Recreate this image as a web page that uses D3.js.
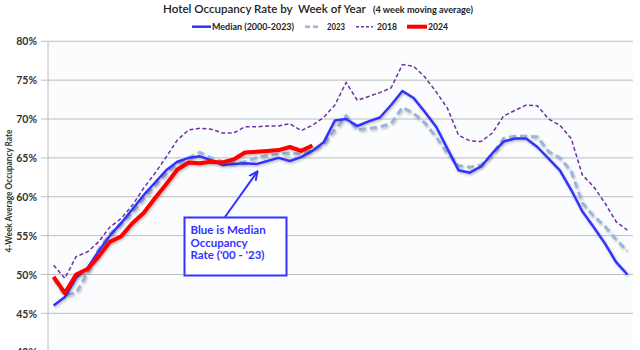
<!DOCTYPE html>
<html><head><meta charset="utf-8">
<script src="https://cdn.jsdelivr.net/npm/d3@7"></script>
<style>body{margin:0;background:#fff;}svg{display:block;}</style>
</head><body>
<svg id="c" width="640" height="350"></svg>
<script>
const weeks = d3.range(1, 53);
const median = [46.0,47.1,49.6,50.8,53.0,55.0,56.6,58.4,60.2,61.8,63.4,64.5,65.0,65.2,64.7,64.1,64.2,64.3,64.2,64.6,65.0,64.6,65.1,65.9,67.0,69.8,70.0,69.1,69.7,70.2,71.8,73.6,72.7,70.9,69.0,66.2,63.4,63.1,63.9,65.6,67.1,67.5,67.5,66.4,64.9,63.4,60.9,58.1,56.1,54.0,51.6,50.0];
const y2023 = [49.5,47.4,47.6,50.2,53.2,55.2,56.6,58.0,59.8,61.5,63.0,64.3,65.0,65.7,65.0,64.5,64.3,64.5,65.0,65.3,65.5,65.6,65.5,66.0,66.8,68.6,70.4,68.6,68.8,69.0,69.4,71.5,70.7,69.5,67.7,65.6,64.0,63.8,64.1,65.5,67.5,67.8,67.8,67.7,65.8,65.0,63.3,59.2,57.5,56.2,54.5,53.0];
const y2018 = [51.2,49.5,52.3,52.9,54.2,56.1,57.2,58.9,61.1,63.0,65.1,67.3,68.6,68.8,68.7,68.2,68.2,69.0,69.0,69.1,69.1,69.4,68.5,69.2,70.2,71.8,74.7,72.4,72.9,73.4,74.0,77.0,76.8,75.4,73.5,71.4,67.9,67.2,67.1,68.2,70.4,71.1,71.8,71.7,70.0,69.2,67.5,62.8,61.3,59.2,56.8,55.7];
const y2024 = [49.7,47.6,50.0,50.7,52.3,54.2,54.9,56.6,57.9,59.8,61.6,63.5,64.4,64.3,64.5,64.4,64.8,65.7,65.8,65.9,66.0,66.4,65.9,66.6];
const yTicks = [40,45,50,55,60,65,70,75,80];
const seriesNames = ["Median (2000-2023)","2023","2018","2024"];

const svg = d3.select("#c");
const font = "Lato, 'Open Sans', sans-serif";
const x = d3.scaleBand().domain(weeks).range([48, 633]);
const xc = w => x(w) + x.bandwidth()/2;
const y = d3.scaleLinear().domain([40, 80]).range([352.2, 41.3]);

// fit a text to a target width by scaling its font size
function fitWidth(sel, target) {
  const n = sel.node();
  const fs = parseFloat(sel.attr("font-size"));
  const w = n.getComputedTextLength();
  if (w > 0) sel.attr("font-size", (fs * target / w).toFixed(2));
  return sel;
}

const defs = svg.append("defs");
const f = defs.append("filter").attr("id","sh").attr("x","-5%").attr("y","-5%").attr("width","110%").attr("height","120%");
f.append("feDropShadow").attr("dx",1).attr("dy",1.5).attr("stdDeviation",1).attr("flood-color","#000").attr("flood-opacity",0.25);

// plot background
svg.append("rect").attr("x",48).attr("y",41.3).attr("width",585).attr("height",320).attr("fill","#fbfcfe");

// gridlines
svg.append("g").selectAll("line").data(yTicks).join("line")
  .attr("x1",41).attr("x2",633).attr("y1",d=>y(d)).attr("y2",d=>y(d))
  .attr("stroke","#bdbdbd").attr("stroke-width",1);
svg.append("line").attr("x1",48).attr("x2",48).attr("y1",41.3).attr("y2",352).attr("stroke","#bdbdbd");

// y axis labels
const yAxis = d3.axisLeft(y).tickValues(yTicks).tickFormat(d=>d+"%").tickSize(0).tickPadding(0);
const ga = svg.append("g").attr("transform","translate(37,0)").call(yAxis);
ga.select(".domain").remove();
ga.selectAll("text").attr("font-family",font).attr("font-weight","bold").attr("font-size",10.5).attr("fill","#333").attr("dy","0.35em");

// y title
svg.append("text").attr("transform","translate(12,191) rotate(-90)").attr("text-anchor","middle")
  .attr("font-family",font).attr("font-weight","bold").attr("font-size",9).attr("fill","#333")
  .attr("textLength",123).attr("lengthAdjust","spacingAndGlyphs")
  .text("4-Week Average Occupancy Rate");

const line = d3.line().x((d,i)=>xc(weeks[i])).y(d=>y(d));
const g = svg.append("g");
g.append("path").datum(y2018).attr("d",line).attr("fill","none").attr("stroke","#7030a0").attr("stroke-width",1.5).attr("stroke-dasharray","4,2.5");
g.append("path").datum(y2023).attr("d",line).attr("fill","none").attr("stroke","#9bb5d6").attr("stroke-width",3).attr("stroke-dasharray","7,4").attr("filter","url(#sh)");
g.append("path").datum(median).attr("d",line).attr("fill","none").attr("stroke","#3333ff").attr("stroke-width",2.5).attr("stroke-linejoin","round").attr("filter","url(#sh)");
g.append("path").datum(y2024).attr("d",line).attr("fill","none").attr("stroke","#ff0000").attr("stroke-width",4).attr("stroke-linejoin","round").attr("filter","url(#sh)");

// title
const t1 = svg.append("text").attr("x",163).attr("y",12.5).attr("font-family",font).attr("fill","#222")
  .attr("font-size",13).attr("font-weight","600").attr("xml:space","preserve")
  .text("Hotel Occupancy Rate by  Week of Year");
fitWidth(t1, 203);
const t2 = svg.append("text").attr("x",373).attr("y",12.5).attr("font-family",font).attr("fill","#222")
  .attr("font-size",9.5).attr("font-weight","bold")
  .text("(4 week moving average)");
fitWidth(t2, 100);

// legend
const leg = [
  {name:seriesNames[0], color:"#3333ff", w:2.5, dash:null, x1:192, x2:211, tx:212, tl:82},
  {name:seriesNames[1], color:"#9bb5d6", w:2.5, dash:"5,3", x1:305, x2:320, tx:327, tl:18},
  {name:seriesNames[2], color:"#7030a0", w:1.5, dash:"3,2", x1:356, x2:373, tx:377, tl:20},
  {name:seriesNames[3], color:"#ff0000", w:4, dash:null, x1:407, x2:427, tx:428, tl:20}
];
const lg = svg.append("g");
leg.forEach(l=>{
  lg.append("line").attr("x1",l.x1).attr("x2",l.x2).attr("y1",26.7).attr("y2",26.7).attr("stroke",l.color).attr("stroke-width",l.w).attr("stroke-dasharray",l.dash);
  lg.append("text").attr("x",l.tx).attr("y",30).attr("font-family",font).attr("font-weight","bold").attr("font-size",9.5).attr("fill","#222")
    .attr("textLength",l.tl).attr("lengthAdjust","spacingAndGlyphs").text(l.name);
});

// annotation
defs.append("marker").attr("id","ah").attr("viewBox","0 0 10 10").attr("refX",8).attr("refY",5)
  .attr("markerWidth",5).attr("markerHeight",5).attr("orient","auto")
  .append("path").attr("d","M0,1 L9,5 L0,9").attr("fill","none").attr("stroke","#3333ff").attr("stroke-width",2);
svg.append("line").attr("x1",225).attr("y1",217).attr("x2",257).attr("y2",172).attr("stroke","#3333ff").attr("stroke-width",2).attr("marker-end","url(#ah)");
svg.append("rect").attr("x",184.5).attr("y",217.5).attr("width",102).attr("height",58).attr("fill","#fff").attr("stroke","#3333ff").attr("stroke-width",2);
const at = svg.append("text").attr("font-family",font).attr("font-weight","bold").attr("font-size",11.5).attr("fill","#3333ff");
["Blue is Median","Occupancy","Rate ('00 - '23)"].forEach((s,i)=>at.append("tspan").attr("x",190.5).attr("y",234+i*12.5).text(s));
</script>
</body></html>
